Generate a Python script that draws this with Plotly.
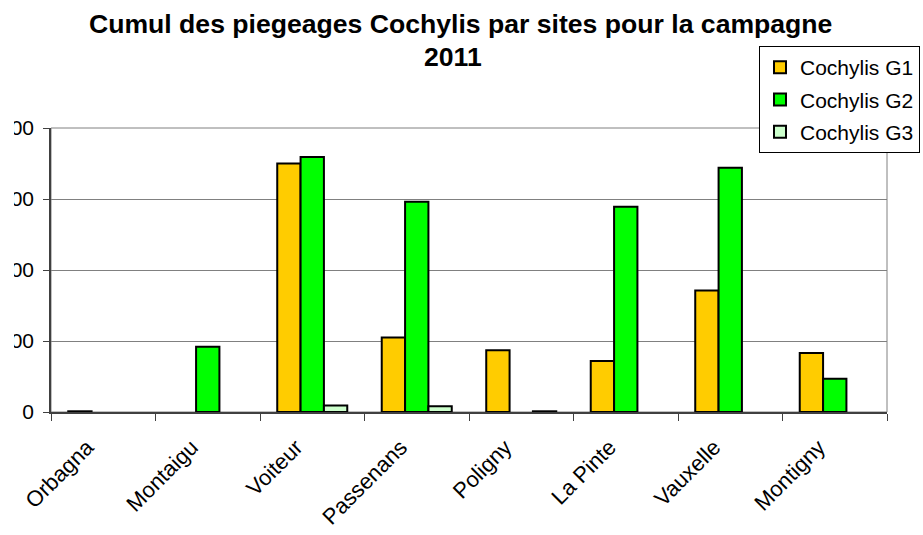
import plotly.graph_objects as go

sites = ["Orbagna", "Montaigu", "Voiteur", "Passenans", "Poligny", "La Pinte", "Vauxelle", "Montigny"]
g1 = [1, None, 350, 105, 87, 72, 171, 83]
g2 = [None, 92, 359, 296, None, 289, 344, 47]
g3 = [None, None, 9, 8, 1, None, None, None]
series_names = ["Cochylis G1", "Cochylis G2", "Cochylis G3"]
series_colors = ["#FFCC00", "#00FF00", "#CCFFCC"]
y_ticks = [0, 100, 200, 300, 400]
title_lines = ["Cumul des piegeages Cochylis par sites pour la campagne", "2011"]

FONT = "Liberation Sans, Arial, sans-serif"

fig = go.Figure()
for i, (name, vals, col) in enumerate(zip(series_names, [g1, g2, g3], series_colors)):
    fig.add_trace(go.Bar(
        x=sites, y=vals, name=name, legendgroup=name,
        marker=dict(color=col, line=dict(color="black", width=2)),
    ))

L, R, T, B = 51, 36, 128, 123
W, H = 923, 535
pw = W - L - R
ph = H - T - B


def py(px):
    return (H - B - px) / ph


def pxx(px):
    return (px - L) / pw


annotations = [
    dict(text="<b>%s</b>" % title_lines[0], x=pxx(460), y=py(24), xref="paper", yref="paper",
         xanchor="center", yanchor="middle", showarrow=False,
         font=dict(family=FONT, size=26.6, color="black")),
    dict(text="<b>%s</b>" % title_lines[1], x=pxx(453), y=py(57), xref="paper", yref="paper",
         xanchor="center", yanchor="middle", showarrow=False,
         font=dict(family=FONT, size=26.6, color="black")),
]

fig.update_layout(
    width=W, height=H,
    margin=dict(l=L, r=R, t=T, b=B, pad=0, autoexpand=False),
    paper_bgcolor="white", plot_bgcolor="white",
    barmode="group", bargap=0.33, bargroupgap=0,
    font=dict(family=FONT, color="black", size=21),
    annotations=annotations,
    legend=dict(
        x=pxx(759), y=py(46), xanchor="left", yanchor="top",
        bgcolor="white", bordercolor="black", borderwidth=1,
        font=dict(family=FONT, size=21, color="black"),
        tracegroupgap=2, itemwidth=30,
    ),
    xaxis=dict(
        type="category", tickson="boundaries", ticks="outside", ticklen=7,
        tickcolor="#404040", showline=True, linecolor="#404040", linewidth=1.5,
        tickangle=-45, showgrid=False, automargin=False,
        ticklabelshift=-16, ticklabelstandoff=12,
        tickfont=dict(family=FONT, size=22, color="black"),
    ),
    yaxis=dict(
        range=[0, 400], tickvals=y_ticks, ticktext=[str(v) for v in y_ticks],
        ticks="outside", ticklen=6, tickcolor="#404040",
        showline=True, linecolor="#404040", linewidth=1.5,
        showgrid=True, gridcolor="#808080", gridwidth=1,
        zeroline=False, ticklabelstandoff=5, automargin=False,
        tickfont=dict(family=FONT, size=21, color="black"),
    ),
    shapes=[
        dict(type="rect", xref="paper", yref="paper", x0=0, x1=1, y0=0, y1=1,
             line=dict(color="#808080", width=1), fillcolor="rgba(0,0,0,0)", layer="below"),
        dict(type="rect", xref="paper", yref="paper",
             x0=pxx(0), x1=pxx(14), y0=-0.05, y1=1.1,
             line=dict(width=0), fillcolor="white", layer="above"),
    ],
)

fig.write_html("out.html", post_script="document.body.style.margin='0px';",
               config={"displayModeBar": False})
